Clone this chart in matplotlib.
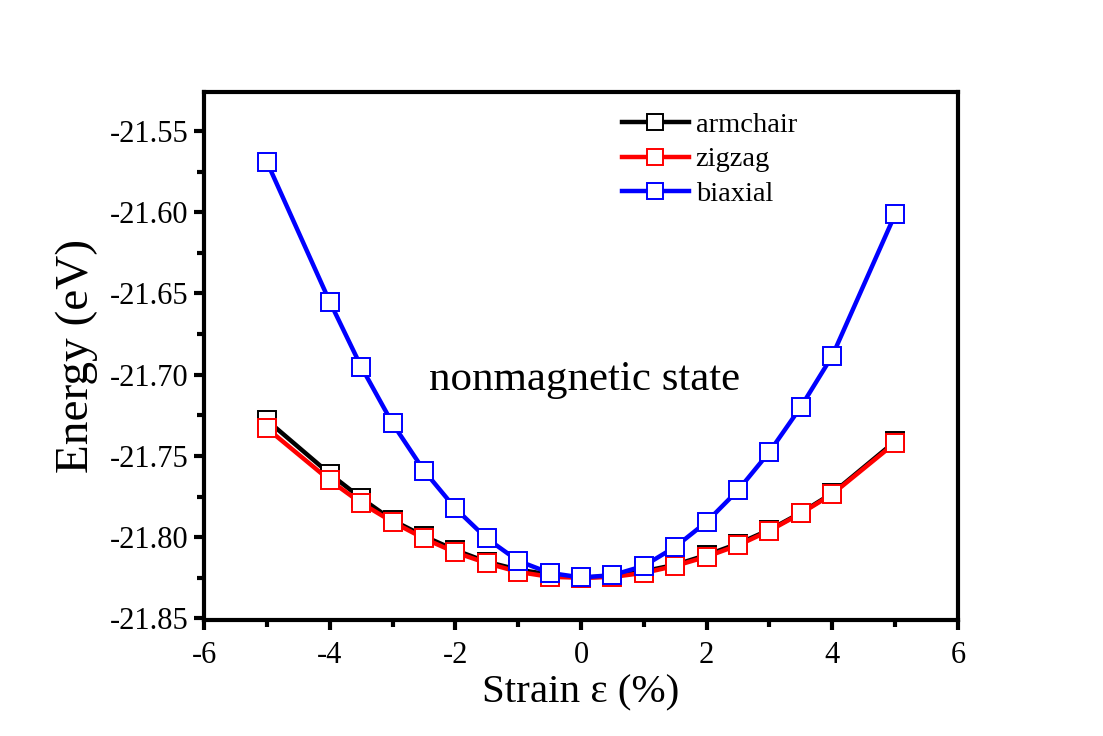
import matplotlib
matplotlib.use("Agg")
import matplotlib.pyplot as plt
from matplotlib.ticker import MultipleLocator, FormatStrFormatter, FuncFormatter

plt.rcParams['font.family'] = ['Liberation Serif', 'DejaVu Serif']
plt.rcParams['axes.unicode_minus'] = False

strain = [-5, -4, -3.5, -3, -2.5, -2, -1.5, -1, -0.5, 0, 0.5, 1, 1.5, 2, 2.5, 3, 3.5, 4, 5]
armchair = [-21.728, -21.761, -21.776, -21.7896, -21.7994, -21.808, -21.8152, -21.820,
            -21.823, -21.825, -21.824, -21.821, -21.817, -21.811, -21.804, -21.7955,
            -21.785, -21.773, -21.741]
zigzag = [-21.733, -21.765, -21.779, -21.7906, -21.8008, -21.8094, -21.816, -21.8214,
          -21.8244, -21.825, -21.8245, -21.822, -21.8177, -21.812, -21.805, -21.796,
          -21.7854, -21.7735, -21.742]
biaxial = [-21.569, -21.655, -21.695, -21.730, -21.759, -21.7823, -21.8008, -21.8146,
           -21.822, -21.8248, -21.8234, -21.8177, -21.806, -21.7906, -21.7711, -21.7475,
           -21.7198, -21.6884, -21.6013]

series = [("armchair", armchair, "black"), ("zigzag", zigzag, "red"), ("biaxial", biaxial, "blue")]

fig = plt.figure(figsize=(11.03, 7.36), dpi=100)
ax = fig.add_axes([0.185, 0.1576, 0.6835, 0.7174])

for name, vals, col in series:
    ax.plot(strain, vals, color=col, lw=3.2, marker='s', markersize=13,
            markerfacecolor='white', markeredgecolor=col, markeredgewidth=1.4, label=name)

ax.set_xlim(-6, 6)
ax.set_ylim(-21.851, -21.526)
ax.xaxis.set_major_locator(MultipleLocator(2))
ax.xaxis.set_minor_locator(MultipleLocator(1))
ax.xaxis.set_major_formatter(FuncFormatter(lambda v, p: f"{v:.0f}".replace("\u2212", "-")))
ax.yaxis.set_major_locator(MultipleLocator(0.05))
ax.yaxis.set_minor_locator(MultipleLocator(0.025))
ax.yaxis.set_major_formatter(FormatStrFormatter('%.2f'))

for s in ax.spines.values():
    s.set_linewidth(3)
ax.tick_params(which='major', direction='out', length=7, width=3, labelsize=22, pad=4,
               top=False, right=False)
ax.tick_params(axis='x', which='major', pad=8)
ax.tick_params(which='minor', direction='out', length=5, width=3, top=False, right=False)

ax.set_xlabel("Strain ε (%)", fontsize=29.5, labelpad=3)
ax.set_ylabel("Energy (eV)", fontsize=34, labelpad=9)

ax.text(0.05, -21.703, "nonmagnetic state", fontsize=31, ha='center', va='center')

leg = ax.legend(loc='upper left', bbox_to_anchor=(0.554, 0.962), frameon=False,
                fontsize=20.5, handlelength=2.35, handletextpad=0.25, labelspacing=0.3,
                borderpad=0, borderaxespad=0)
for h in leg.legend_handles:
    h.set_markersize(11)

fig.savefig("out.png", dpi=100, facecolor='white')
